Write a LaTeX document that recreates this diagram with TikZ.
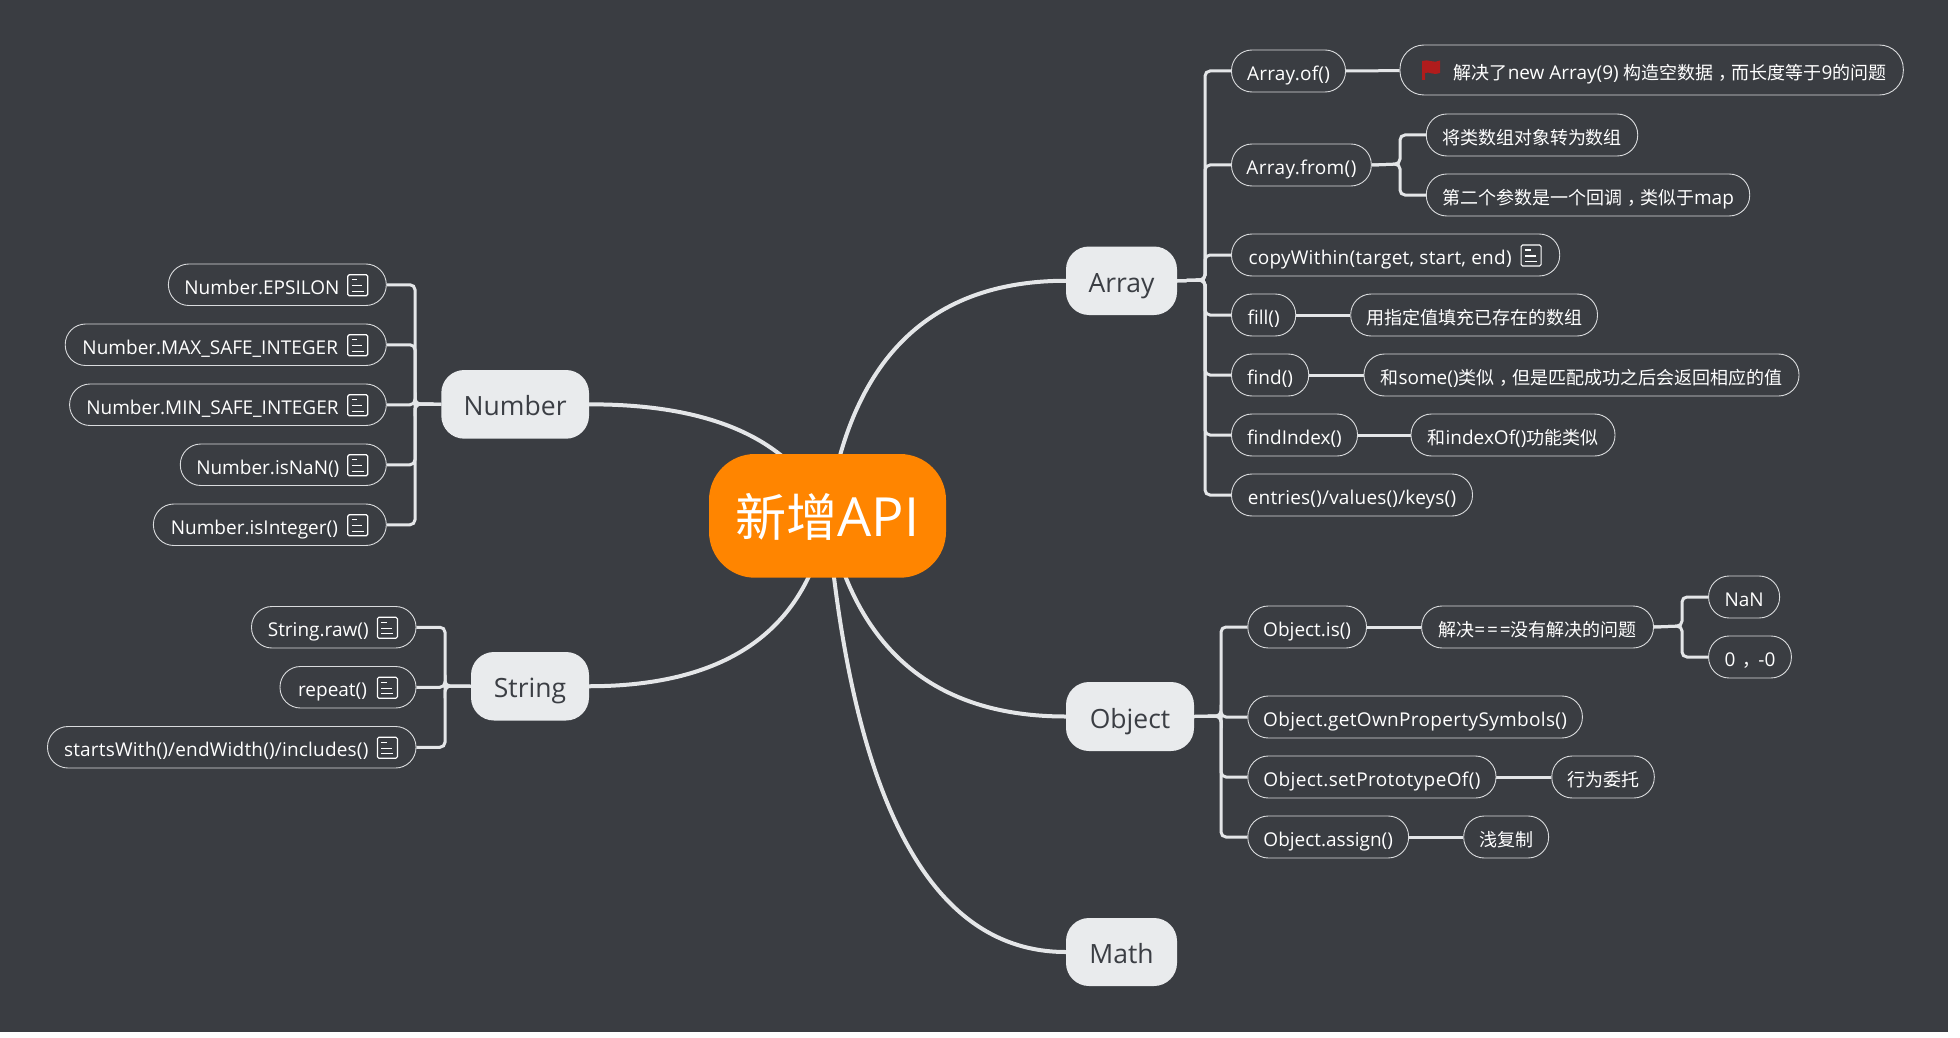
\documentclass[tikz,border=0pt]{standalone}
\usepackage{fontspec}
\setmainfont{Open Sans}
\newfontfamily\cjf[Scale=0.947]{Noto Sans CJK SC}
\newcommand{\cj}[1]{{\cjf #1}}
\newcommand{\fwc}{{\cjf\kern.28em，\kern-.28em}}
\newcommand{\ls}[2]{{\addfontfeature{LetterSpace=#1}#2}}
\usetikzlibrary{calc}
\definecolor{canvasc}{HTML}{3A3D42}
\definecolor{linec}{HTML}{E4E6E8}
\definecolor{edgec}{HTML}{D9DBDD}
\definecolor{topicc}{HTML}{E9EBED}
\definecolor{topict}{HTML}{3B3E44}
\definecolor{rootc}{HTML}{FF8500}
\definecolor{flagc}{HTML}{B01C1C}
\pgfdeclarelayer{backdrop}
\pgfdeclarelayer{edges}
\pgfsetlayers{backdrop,edges,main}
\tikzset{
  pill/.style={draw=edgec,line width=0.9pt,fill=canvasc,rounded corners=20.5pt,inner sep=0pt,
    text=white,align=center,text height=25pt,text depth=6pt,
    font=\fontsize{19}{22}\selectfont},
  topic/.style={fill=topicc,rounded corners=23pt,inner sep=0pt,text=topict,
    text height=30pt,text depth=7pt,font=\fontsize{26.5}{30}\selectfont},
  root/.style={fill=rootc,rounded corners=46pt,inner sep=0pt,text=white,
    text height=64pt,text depth=22pt,font=\fontsize{54}{60}\selectfont},
  branch/.style={draw=linec,line width=3pt,rounded corners=5pt},
  maincurve/.style={draw=linec,line width=4pt},
  iconline/.style={draw=white,line width=1.1pt}
}
\newcommand{\boxat}[7]{% style, name, x1, x2, y1, y2, text
  \pgfmathsetmacro{\bxw}{#4-#3}\pgfmathsetmacro{\bxh}{#6-#5}
  \pgfmathsetmacro{\bxx}{(#3+#4)/2}\pgfmathsetmacro{\bxy}{(#5+#6)/2}
  \node[#1,minimum width=\bxw pt,minimum height=\bxh pt] (#2) at (\bxx,\bxy) {#7};}
\newcommand{\noteicon}[1]{%
  \begin{scope}[shift={(#1.east)}]
    \draw[iconline,rounded corners=1.5pt] (-39,-10) rectangle (-19,11);
    \draw[iconline] (-35,-5) -- (-29.5,-5) (-35,1) -- (-24.5,1) (-35,6.5) -- (-23,6.5);
  \end{scope}}
\newcommand{\qcurve}[3]{%
  \draw[maincurve] (#1) .. controls ($(#1)!0.667!(#2)$) and ($(#3)!0.667!(#2)$) .. (#3);}
\newcommand{\notegap}{\hspace*{31pt}}
\begin{document}
\begin{tikzpicture}[x=1pt,y=-1pt]
\useasboundingbox (0,0) rectangle (1960,1038);
\begin{pgfonlayer}{backdrop}
  \fill[white] (0,0) rectangle (1960,1038);
  \fill[canvasc] (0,0) rectangle (1948,1032);
\end{pgfonlayer}
% root and topics
\boxat{root}{rootn}{709}{946}{454}{577.7}{\cj{新增}API}
\boxat{topic}{arrayn}{1066}{1177}{246.5}{315}{Array}
\boxat{topic}{objectn}{1066}{1194}{682}{751}{Object}
\boxat{topic}{mathn}{1066}{1177}{918}{986}{Math}
\boxat{topic}{numbern}{441.3}{589}{370}{438.7}{Number}
\boxat{topic}{stringn}{471}{589}{652}{720.5}{String}
% Array children
\boxat{pill}{aof}{1231.5}{1345.5}{50}{92}{\ls{1.3}{Array.of()}}
\boxat{pill,rounded corners=24pt}{aofn}{1400}{1903.3}{45}{95}{\hspace*{37pt}\cj{解决了}new Array(9) \cj{构造空数据}\fwc\cj{而长度等于}9\cj{的问题}}
\boxat{pill}{afrom}{1231.5}{1371.3}{144}{186}{\ls{2}{Array.from()}}
\boxat{pill}{afroma}{1426.3}{1637.7}{114}{156}{\cj{将类数组对象转为数组}}
\boxat{pill}{afromb}{1426.3}{1749.7}{174}{216}{\cj{第二个参数是一个回调}\fwc\cj{类似于}map}
\boxat{pill}{acopy}{1231.5}{1559.7}{234}{276}{\ls{1.3}{copyWithin(target, start, end)}\notegap}
\boxat{pill}{afill}{1231.5}{1295.7}{294}{336}{fill()}
\boxat{pill}{afilln}{1350.7}{1597.5}{294}{336}{\cj{用指定值填充已存在的数组}}
\boxat{pill}{afind}{1231.5}{1308.7}{354}{396}{find()}
\boxat{pill}{afindn}{1364}{1799}{354}{396}{\cj{和}some()\cj{类似}\fwc\cj{但是匹配成功之后会返回相应的值}}
\boxat{pill}{aidx}{1231.5}{1357.5}{414}{456}{findIndex()}
\boxat{pill}{aidxn}{1411}{1615}{414}{456}{\cj{和}indexOf()\cj{功能类似}}
\boxat{pill}{aent}{1231.5}{1472.5}{474}{516}{\ls{1}{entries()/values()/keys()}}
% Object children
\boxat{pill}{ois}{1247.8}{1366.5}{606}{648}{Object.is()}
\boxat{pill}{oisn}{1421.6}{1653.5}{606}{648}{\cj{解决}\ls{10}{===}\cj{没有解决的问题}}
\boxat{pill}{onan}{1708.6}{1779.6}{576}{618}{NaN}
\boxat{pill}{ozero}{1708.6}{1791.4}{636}{678}{0\kern2pt\fwc\kern3pt-0}
\boxat{pill}{oget}{1247.8}{1582.4}{696}{738}{\ls{1.75}{Object.getOwnPropertySymbols()}}
\boxat{pill}{oset}{1247.8}{1496}{756}{798}{\ls{2}{Object.setPrototypeOf()}}
\boxat{pill}{osetn}{1551.8}{1654.3}{756}{798}{\cj{行为委托}}
\boxat{pill}{oas}{1247.8}{1408.6}{816}{858}{Object.assign()}
\boxat{pill}{oasn}{1463.7}{1548.6}{816}{858}{\cj{浅复制}}
% Number children
\boxat{pill}{neps}{168.4}{386.3}{264}{305.5}{Number.EPSILON\notegap}
\boxat{pill}{nmax}{65.2}{386.3}{324}{365.5}{Number.MAX\_SAFE\_INTEGER\notegap}
\boxat{pill}{nmin}{69.6}{386.3}{384}{425.5}{Number.MIN\_SAFE\_INTEGER\notegap}
\boxat{pill}{nnan}{180.3}{386.3}{444}{485.5}{Number.isNaN()\notegap}
\boxat{pill}{nint}{153.4}{386.3}{504}{545.5}{Number.isInteger()\notegap}
% String children
\boxat{pill}{sraw}{251.5}{416}{606.5}{648}{String.raw()\notegap}
\boxat{pill}{srep}{280}{416}{666.5}{708}{repeat()\notegap}
\boxat{pill}{ssta}{47.5}{416}{726.5}{768}{\ls{1}{startsWith()/endWidth()/includes()}\notegap}
% note icons
\foreach \n in {acopy,neps,nmax,nmin,nnan,nint,sraw,srep,ssta} {\noteicon{\n}}
% flag
\fill[flagc] (1422,61) .. controls (1428,58.5) and (1434,64) .. (1440,60.5)
  -- (1440,73) .. controls (1434,76) and (1429,71) .. (1425,73) -- (1425,80) -- (1422,80) -- cycle;
% trunk positions
\coordinate (tarr) at (1205,280);
\coordinate (tfrom) at (1400,164);
\coordinate (tobj) at (1221,716);
\coordinate (tisn) at (1682,626);
\coordinate (tnum) at (415,404);
\coordinate (tstr) at (445,686);
% curve control points
\coordinate (karr) at (861,281);
\coordinate (knum) at (778,404);
\coordinate (kstr) at (798,686);
\coordinate (kobj) at (869,716.5);
\coordinate (kmat) at (866,952);
\begin{pgfonlayer}{edges}
  \qcurve{rootn.center}{karr}{arrayn.west}
  \qcurve{rootn.center}{knum}{numbern.east}
  \qcurve{rootn.center}{kstr}{stringn.east}
  \qcurve{rootn.center}{kobj}{objectn.west}
  \qcurve{rootn.center}{kmat}{mathn.west}
  \foreach \c in {aof,afrom,acopy,afill,afind,aidx,aent}
    {\draw[branch] (arrayn.east) -- (tarr) |- (\c.west);}
  \foreach \c in {afroma,afromb}
    {\draw[branch] (afrom.east) -- (tfrom) |- (\c.west);}
  \draw[branch] (aof) -- (aofn);
  \draw[branch] (afill) -- (afilln);
  \draw[branch] (afind) -- (afindn);
  \draw[branch] (aidx) -- (aidxn);
  \foreach \c in {ois,oget,oset,oas}
    {\draw[branch] (objectn.east) -- (tobj) |- (\c.west);}
  \draw[branch] (ois) -- (oisn);
  \foreach \c in {onan,ozero}
    {\draw[branch] (oisn.east) -- (tisn) |- (\c.west);}
  \draw[branch] (oset) -- (osetn);
  \draw[branch] (oas) -- (oasn);
  \foreach \c in {neps,nmax,nmin,nnan,nint}
    {\draw[branch] (numbern.west) -- (tnum) |- (\c.east);}
  \foreach \c in {sraw,srep,ssta}
    {\draw[branch] (stringn.west) -- (tstr) |- (\c.east);}
\end{pgfonlayer}
\end{tikzpicture}
\end{document}
